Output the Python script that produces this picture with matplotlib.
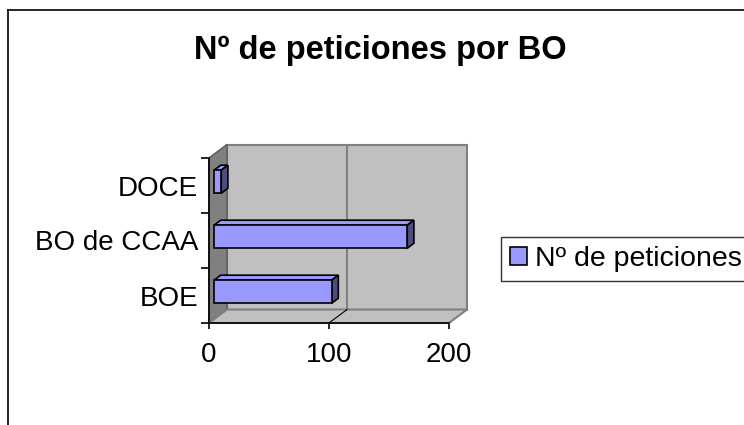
import matplotlib
matplotlib.use("Agg")
from matplotlib import pyplot as plt
from matplotlib.patches import Polygon, Rectangle
from matplotlib.lines import Line2D

plt.rcParams['font.family'] = ['Liberation Sans', 'DejaVu Sans']

# data
categories = ["BOE", "BO de CCAA", "DOCE"]
peticiones = [98, 161, 6]
x_ticks = [0, 100, 200]
series_name = "Nº de peticiones"
title = "Nº de peticiones por BO"

# 3d look (data units)
DX, DY = 15, 0.245      # depth of the box
F0, F1 = 0.28, 0.65     # bar front / back depth fraction
H = 0.42                # bar thickness
front_col = "#9999ff"
side_col = "#4d4d80"
wall_col = "#c0c0c0"

W, Hpx = 744, 425
fig = plt.figure(figsize=(W / 100, Hpx / 100), dpi=100)
ax = fig.add_axes([209 / W, (Hpx - 323) / Hpx, 240 / W, 165 / Hpx])
ax.set_xlim(0, 200)
ax.set_ylim(-0.5, len(categories) - 0.5)
ax.patch.set_visible(False)
for s in ["top", "right"]:
    ax.spines[s].set_visible(False)
for s in ["left", "bottom"]:
    ax.spines[s].set_linewidth(1.2)
    ax.spines[s].set_zorder(6)

ymin, ymax = -0.5, len(categories) - 0.5
xmax = x_ticks[-1]

# back wall
back = Polygon([(DX, ymin + DY), (xmax + DX, ymin + DY), (xmax + DX, ymax + DY), (DX, ymax + DY)],
               closed=True, fc=wall_col, ec="#808080", lw=1.5, clip_on=False, zorder=1)
ax.add_patch(back)
# side wall
side = Polygon([(0, ymin), (0, ymax), (DX, ymax + DY), (DX, ymin + DY)],
               closed=True, fc="#808080", ec="#606060", lw=1.2, clip_on=False, zorder=2)
ax.add_patch(side)
# floor
floor = Polygon([(0, ymin), (xmax, ymin), (xmax + DX, ymin + DY), (DX, ymin + DY)],
                closed=True, fc=wall_col, ec="#808080", lw=1.5, clip_on=False, zorder=2)
ax.add_patch(floor)
# gridlines
for t in x_ticks[1:-1]:
    ax.plot([t + DX, t + DX], [ymin + DY, ymax + DY], color="#808080", lw=1.5, clip_on=False, zorder=1.5)
    ax.plot([t, t + DX], [ymin, ymin + DY], color="black", lw=0.8, clip_on=False, zorder=2.5)

# bars
ypos = list(range(len(categories)))
ax.barh([y + F0 * DY for y in ypos], peticiones, height=H, left=F0 * DX,
        color=front_col, edgecolor="black", linewidth=1.2, clip_on=False, zorder=5)
ddx, ddy = (F1 - F0) * DX, (F1 - F0) * DY
for y, v in zip(ypos, peticiones):
    x0, x1 = F0 * DX, v + F0 * DX
    y0, y1 = y - H / 2 + F0 * DY, y + H / 2 + F0 * DY
    top = Polygon([(x0, y1), (x1, y1), (x1 + ddx, y1 + ddy), (x0 + ddx, y1 + ddy)],
                  closed=True, fc=front_col, ec="black", lw=1.2, clip_on=False, zorder=4)
    right = Polygon([(x1, y0), (x1, y1), (x1 + ddx, y1 + ddy), (x1 + ddx, y0 + ddy)],
                    closed=True, fc=side_col, ec="black", lw=1.2, clip_on=False, zorder=4)
    ax.add_patch(top)
    ax.add_patch(right)

# ticks
ax.set_xticks(x_ticks)
ax.set_xticklabels([str(t) for t in x_ticks])
ax.tick_params(axis="x", direction="out", length=4.5, width=1.2, labelsize=20, pad=9)
ax.set_yticks([y - 0.5 for y in range(len(categories) + 1)])
ax.set_yticklabels([])
ax.tick_params(axis="y", which="major", direction="out", length=6, width=1.2)
ax.set_yticks(ypos, minor=True)
ax.set_yticklabels(categories, minor=True)
ax.tick_params(axis="y", which="minor", length=0, labelsize=20, pad=8)

# title
fig.text(380 / W, 1 - 50 / Hpx, title, ha="center", va="center", fontsize=23.5, fontweight="bold")

# legend
handle = Rectangle((0, 0), 1, 1, fc=front_col, ec="black", lw=1.2)
leg = fig.legend([handle], [series_name], loc="center left", bbox_to_anchor=(501 / W, 1 - 259 / Hpx),
                 fontsize=20.5, frameon=True, fancybox=False, edgecolor="black",
                 handlelength=0.6, handleheight=0.6, handletextpad=0.3, borderpad=0.3, borderaxespad=0)
leg.get_frame().set_linewidth(1.0)

# chart border
fig.add_artist(Line2D([8 / W, 8 / W], [0, 1 - 10 / Hpx], color="black", lw=1.2))
fig.add_artist(Line2D([8 / W, 1], [1 - 10 / Hpx, 1 - 10 / Hpx], color="black", lw=1.2))

fig.savefig("out.png", dpi=100)
